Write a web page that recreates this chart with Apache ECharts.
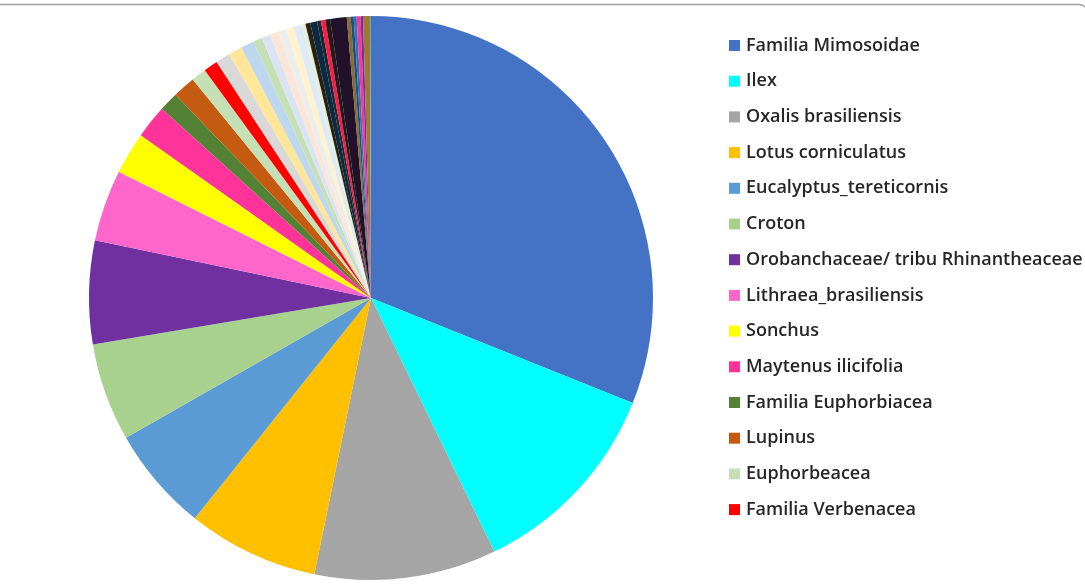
<!DOCTYPE html>
<html>
<head>
<meta charset="utf-8">
<script src="https://cdn.jsdelivr.net/npm/echarts@6/dist/echarts.min.js"></script>
<style>
html,body{margin:0;padding:0;background:#fff;}
#chart{width:1085px;height:584px;}
</style>
</head>
<body>
<div id="chart"></div>
<script>
// Named slices (shown in legend)
const legendNames = [
  "Familia Mimosoidae", "Ilex", "Oxalis brasiliensis", "Lotus corniculatus",
  "Eucalyptus_tereticornis", "Croton", "Orobanchaceae/ tribu Rhinantheaceae",
  "Lithraea_brasiliensis", "Sonchus", "Maytenus ilicifolia", "Familia Euphorbiacea",
  "Lupinus", "Euphorbeacea", "Familia Verbenacea"
];
const legendValues = [31.0, 11.7, 10.4, 7.5, 6.0, 5.6, 5.9, 4.1, 2.4, 1.9, 1.1, 1.3, 0.86, 0.81];
const legendColors = ["#4472C4", "#00FFFF", "#A5A5A5", "#FFC000", "#5B9BD5", "#A9D18E", "#7030A0",
  "#FF66CC", "#FFFF00", "#FF3399", "#548235", "#C55A11", "#C5E0B4", "#FF0000"];

// Remaining small slices (not listed in legend)
const otherNames = ["s15","s16","s17","s18","s19","s20","s21","s22","s23","s24","s25","s26","s27",
  "s28","s29","s30","s31","s32","s33","s34","s35","s36","s37"];
const otherValues = [0.83, 0.78, 0.75, 0.53, 0.5, 0.5, 0.47, 0.42, 0.47, 0.22, 0.28, 0.39, 0.22,
  0.25, 0.28, 0.94, 0.22, 0.17, 0.17, 0.22, 0.14, 0.39, 0.06];
const otherColors = ["#D9D9D9", "#FFE699", "#BDD7EE", "#C5E0B4", "#DAE3F3", "#FBE5D6", "#EDEDED",
  "#FFF2CC", "#DEEBF7", "#E2F0D9", "#2B2111", "#0D2A45", "#1A2A33", "#FF1A4B", "#241A1A",
  "#21112B", "#8A6A35", "#1F4E79", "#2E75B6", "#FF3399", "#7030A0", "#A07830", "#5BB0C0"];

const allNames = legendNames.concat(otherNames);
const allValues = legendValues.concat(otherValues);
const allColors = legendColors.concat(otherColors);

const pieData = allNames.map((n, i) => ({
  name: n, value: allValues[i], itemStyle: { color: allColors[i] }
}));

const chart = echarts.init(document.getElementById('chart'));
chart.setOption({
  animation: false,
  backgroundColor: '#ffffff',
  graphic: [{
    type: 'rect',
    shape: { x: -10, y: 4.5, width: 1097, height: 1000, r: 8 },
    style: { fill: 'none', stroke: '#a0a0a0', lineWidth: 1.5 },
    silent: true
  }],
  legend: {
    orient: 'vertical',
    left: 724,
    top: 31.5,
    data: legendNames,
    icon: 'rect',
    itemWidth: 11,
    itemHeight: 11,
    itemGap: 17.7,
    textStyle: {
      fontFamily: 'Open Sans',
      fontWeight: 600,
      fontSize: 18,
      lineHeight: 18,
      color: '#262626',
      padding: [0, 0, 0, 1]
    }
  },
  series: [{
    type: 'pie',
    center: [371, 298],
    radius: 282,
    startAngle: 90,
    clockwise: true,
    label: { show: false },
    labelLine: { show: false },
    itemStyle: { borderWidth: 0 },
    emphasis: { disabled: true },
    data: pieData
  }]
});
</script>
</body>
</html>
